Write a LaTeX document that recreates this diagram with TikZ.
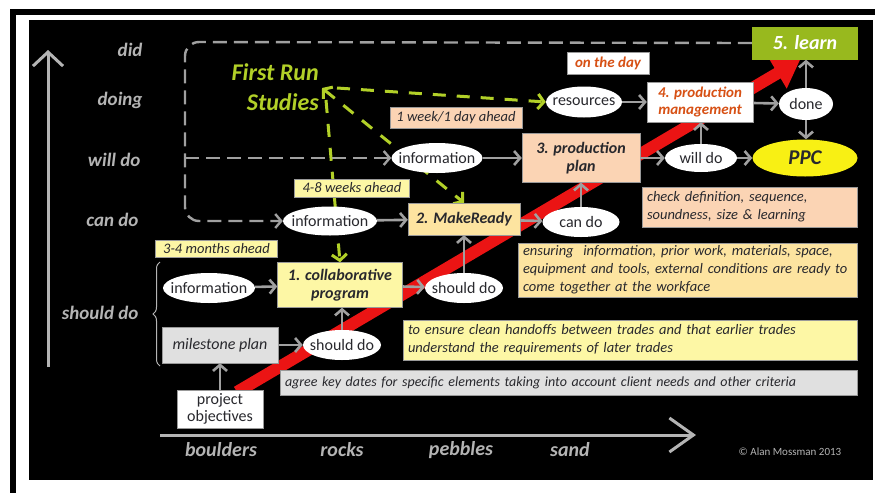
\documentclass[tikz,border=0pt]{standalone}
\usepackage{fontspec}
\setmainfont{Carlito}
\usetikzlibrary{arrows.meta,shapes.geometric,decorations.pathreplacing}
\pgfdeclarelayer{back}
\pgfdeclarelayer{mid}
\pgfsetlayers{back,mid,main}
\definecolor{conngray}{RGB}{160,160,160}
\definecolor{axisgray}{RGB}{180,180,180}
\definecolor{frsgreen}{RGB}{178,208,40}
\definecolor{learngreen}{RGB}{152,185,30}
\definecolor{peach}{RGB}{251,212,180}
\definecolor{lyellow}{RGB}{253,247,165}
\definecolor{ltan}{RGB}{253,228,160}
\definecolor{lgray}{RGB}{224,224,224}
\definecolor{ppcyellow}{RGB}{248,240,20}
\definecolor{orangered}{RGB}{215,80,20}
\definecolor{txt}{RGB}{40,40,45}
\definecolor{redband}{RGB}{235,20,20}
\newcommand{\fsz}[2]{\fontsize{#1}{#2}\selectfont}
\begin{document}
\begin{tikzpicture}[x=1pt,y=-1pt,
  ell/.style 2 args={ellipse, fill=white, minimum width=#1, minimum height=#2, inner xsep=-10pt, inner ysep=0pt, text=txt, font=\fsz{16}{18}},
  box/.style={rectangle, draw=black!40, line width=0.4pt, inner sep=2pt, text=txt, align=center},
  desc/.style={rectangle, draw=black!40, line width=0.4pt, inner xsep=5pt, inner ysep=2pt, text=txt, align=left, font=\fsz{14.5}{18}\itshape},
  conn/.style={draw=conngray, line width=2.6pt, -{Straight Barb[length=6pt,width=14pt]}},
  dashgray/.style={draw=conngray, line width=2.4pt, dash pattern=on 14pt off 7pt, rounded corners=14pt},
  greendash/.style={draw=frsgreen, line width=3pt, dash pattern=on 13pt off 11pt},
  gtip/.style={-{Straight Barb[length=6pt,width=15pt]}},
  axlabel/.style={text=axisgray, font=\fsz{19}{22}\bfseries\itshape, anchor=east},
  xlabel/.style={text=axisgray, font=\fsz{20}{22}\bfseries\itshape}
]
\useasboundingbox (0,0) rectangle (883,493);
\begin{pgfonlayer}{back}
\fill[white] (0,0) rectangle (883,493);
\fill[black] (10,9) rectangle (875,15);
\fill[black] (10,9) rectangle (16,493);
\fill[black] (29,20) rectangle (873,480);
\end{pgfonlayer}

% axes
\coordinate (ya) at (48,367);
\coordinate (yb) at (48,50);
\draw[axisgray, line width=3pt, -{Straight Barb[length=14pt,width=30pt]}] (ya) -- (yb);
\coordinate (xa) at (160,435);
\coordinate (xb) at (696,435);
\draw[axisgray, line width=3pt, -{Straight Barb[length=24pt,width=34pt]}] (xa) -- (xb);

\node[axlabel] (ldid) at (146,50) {did};
\node[axlabel] (ldoing) at (146,100) {doing};
\node[axlabel] (lwill) at (144,160) {will do};
\node[axlabel] (lcan) at (142,220) {can do};
\node[axlabel] (lshould) at (142,313) {should do};
\coordinate (bra) at (160,366);
\coordinate (brb) at (160,262);
\draw[axisgray, line width=1pt, decorate, decoration={brace, amplitude=7pt}] (bra) -- (brb);

\node[xlabel] (xboul) at (221,450) {boulders};
\node[xlabel] (xrock) at (342,450) {rocks};
\node[xlabel] (xpeb) at (461,450) {pebbles};
\node[xlabel] (xsand) at (570,450) {sand};
\node[text=axisgray, font=\fsz{11}{13}] (copy) at (790,452) {\textcopyright{} Alan Mossman 2013};

% nodes
\node[box, fill=learngreen, draw=none, minimum width=106, minimum height=33, text=white, font=\fsz{20}{22}\bfseries\itshape] (learn) at (805,43) {5. learn};
\node[box, fill=white, minimum width=82, minimum height=22, text=orangered, font=\fsz{15}{17}\bfseries\itshape] (onday) at (608,63) {on the day};
\node[ell={76}{31}] (res) at (584,102) {resources};
\node[box, fill=white, minimum width=106, minimum height=40, text=orangered, font=\fsz{15}{17}\bfseries\itshape] (pm) at (700,102) {4. production\\management};
\node[ell={54}{32}] (done) at (806,104) {done};
\node[ell={105}{37}, fill=ppcyellow, font=\fsz{21}{23}\bfseries\itshape] (ppc) at (805,158) {PPC};
\node[ell={72}{28}] (willdo) at (701,158) {will do};
\node[box, fill=peach, minimum width=118, minimum height=49, font=\fsz{16}{18}\bfseries\itshape] (pp) at (581,158) {3. production\\plan};
\node[ell={91}{30}] (infoM) at (437,158) {information};
\node[box, fill=peach, minimum width=132, minimum height=21, font=\fsz{14.5}{16}\itshape] (wk1) at (456,118) {1 week/1 day ahead};
\node[box, fill=ltan, minimum width=112, minimum height=32, font=\fsz{16}{18}\bfseries\itshape] (mr) at (464,219) {2. MakeReady};
\node[ell={94}{29}] (infoL) at (330,221) {information};
\node[box, fill=lyellow, minimum width=115, minimum height=18, inner sep=0pt, font=\fsz{14.5}{16}\itshape] (wk48) at (352,188) {4-8 weeks ahead};
\node[ell={77}{30}] (cando) at (581,222) {can do};
\node[desc, fill=peach, minimum width=215, minimum height=40, text width=205] (check) at (749.5,207) {check definition, sequence,\\soundness, size \& learning};
\node[desc, fill=ltan, minimum width=339, minimum height=54, text width=329] (ensure) at (687.5,270) {ensuring\ \ information, prior work, materials, space,\\equipment and tools, external conditions are ready to\\come together at the workface};
\node[box, fill=lyellow, minimum width=122, minimum height=17, inner sep=0pt, font=\fsz{14.5}{16}\itshape] (m34) at (216.5,249) {3-4 months ahead};
\node[ell={92}{30}] (infoLL) at (209,288) {information};
\node[box, fill=lyellow, minimum width=125, minimum height=45, font=\fsz{16}{18}\bfseries\itshape] (cp) at (340,285) {1. collaborative\\program};
\node[ell={78}{30}] (sdU) at (464,288) {should do};
\node[box, fill=lgray, minimum width=116, minimum height=36, font=\fsz{16}{18}\itshape] (ms) at (220,345) {milestone plan};
\node[ell={78}{30}] (sdL) at (342,345) {should do};
\node[desc, fill=lyellow, minimum width=454, minimum height=40, text width=444] (handoff) at (630,340) {to ensure clean handoffs between trades and that earlier trades\\understand the requirements of later trades};
\node[desc, fill=lgray, minimum width=577, minimum height=25, text width=567, font=\fsz{14}{17}\itshape] (agree) at (568.5,382.5) {agree key dates for specific elements taking into account client needs and other criteria};
\node[box, fill=white, minimum width=86, minimum height=38, inner sep=1pt, font=\fsz{16}{17}] (po) at (220,409) {project\\objectives};

% First Run Studies
\node[text=frsgreen, font=\fsz{24}{30}\bfseries\itshape, align=right, anchor=east, inner sep=0pt] (frs) at (319,87) {First Run\\Studies};

\begin{pgfonlayer}{mid}
% red band
\coordinate (ra) at (237,392);
\coordinate (rb) at (800,60);
\draw[redband, line width=12pt, -{Triangle[length=26pt,width=34pt]}] (ra) -- (rb);
% green dashed arrows
\coordinate (gs) at (322,88);
\coordinate (gh) at (337,88);
\coordinate (gv) at (326,100);
\draw[greendash, gtip] (gh) -- (res.west);
\draw[greendash, {Straight Barb[length=6pt,width=15pt]}-{Straight Barb[length=6pt,width=15pt]}] (gs) -- (mr.north);
\draw[greendash, gtip] (gv) -- (cp.north);
% dashed gray frame
\coordinate (fc1) at (185,42);
\coordinate (fc2) at (185,221);
\coordinate (fb) at (185,158);
\draw[dashgray, -{Straight Barb[length=6pt,width=14pt]}] (learn.west) -- (fc1) -- (fc2) -- (infoL.west);
\draw[dashgray, -{Straight Barb[length=6pt,width=14pt]}] (fb) -- (infoM.west);
\end{pgfonlayer}

% gray connectors
\draw[conn] (infoLL) -- (cp);
\draw[conn] (ms) -- (sdL);
\draw[conn] (po.north) -- (po.north |- ms.south);
\draw[conn] (sdL.north) -- (sdL.north |- cp.south);
\draw[conn] (cp) -- (sdU);
\draw[conn] (sdU.north) -- (sdU.north |- mr.south);
\draw[conn] (infoL) -- (mr);
\draw[conn] (mr) -- (cando);
\draw[conn] (cando.north) -- (cando.north |- pp.south);
\draw[conn] (infoM) -- (pp);
\draw[conn] (pp) -- (willdo);
\draw[conn] (willdo) -- (ppc);
\draw[conn] (willdo.north) -- (willdo.north |- pm.south);
\draw[conn] (res) -- (pm);
\draw[conn] (pm) -- (done);
\draw[conn] (done.south) -- (done.south |- ppc.north);
\draw[conn] (done.north) -- (done.north |- learn.south);
\end{tikzpicture}
\end{document}
